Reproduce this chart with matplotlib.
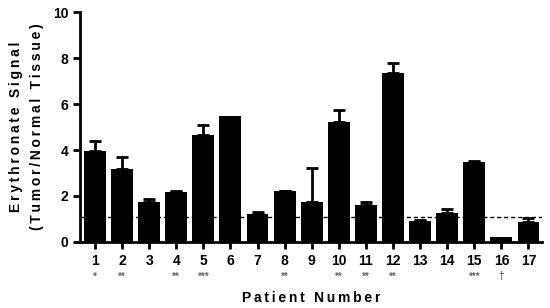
import numpy as np
import matplotlib
matplotlib.use("Agg")
import matplotlib.pyplot as plt

plt.rcParams['font.family'] = ['Liberation Sans', 'DejaVu Sans']

# donnees
patients = list(range(1, 18))
signal = [3.97, 3.17, 1.72, 2.16, 4.67, 5.48, 1.22, 2.2, 1.72, 5.2, 1.61, 7.33, 0.93, 1.26, 3.47, 0.23, 0.88]
erreur = [0.43, 0.53, 0.15, 0.05, 0.42, 0.0, 0.1, 0.03, 1.48, 0.54, 0.14, 0.44, 0.02, 0.16, 0.05, 0.0, 0.15]
etoiles = ['*', '**', '', '**', '***', '', '', '**', '', '**', '**', '**', '', '', '***', '\u2020', '']
seuil = 1.1


def espace(txt):
    # espacement des lettres comme sur l'original
    return '\u2009'.join(txt)


fig = plt.figure(figsize=(5.5, 3.08), dpi=100)
ax = fig.add_axes([0.1455, 0.2143, 0.84, 0.7467])

ax.axhline(seuil, color='black', lw=1, ls=(0, (3, 2)), zorder=1)
ax.bar(patients, signal, width=0.81, color='black', zorder=2)

# barres d'erreur seulement vers le haut, et seulement si elles existent
x_err = [p for p, e in zip(patients, erreur) if e > 0]
y_err = [s for s, e in zip(signal, erreur) if e > 0]
e_haut = [e for e in erreur if e > 0]
ax.errorbar(x_err, y_err, yerr=[np.zeros(len(e_haut)), e_haut], fmt='none',
            ecolor='black', elinewidth=2, capsize=4, capthick=2, zorder=3)

for p, e in zip(patients, etoiles):
    if e:
        ax.text(p, -0.15, e, transform=ax.get_xaxis_transform(), ha='center', va='center',
                fontsize=7, color='#666666', fontweight='bold')

ax.set_xlim(0.45, 17.5)
ax.set_ylim(0, 10)
ax.set_xticks(patients)
ax.set_yticks([0, 2, 4, 6, 8, 10])
ax.tick_params(width=2, length=5, labelsize=10)
for lab in ax.get_xticklabels() + ax.get_yticklabels():
    lab.set_fontweight('bold')

for s in ['top', 'right']:
    ax.spines[s].set_visible(False)
for s in ['left', 'bottom']:
    ax.spines[s].set_linewidth(2)

ax.set_ylabel(espace('Erythronate Signal') + '\n' + espace('(Tumor/Normal Tissue)'),
              fontsize=10, fontweight='bold', labelpad=6, linespacing=1.7)
ax.set_xlabel(espace('Patient Number'), fontsize=10, fontweight='bold', labelpad=17)

fig.savefig('out.png', dpi=100)
